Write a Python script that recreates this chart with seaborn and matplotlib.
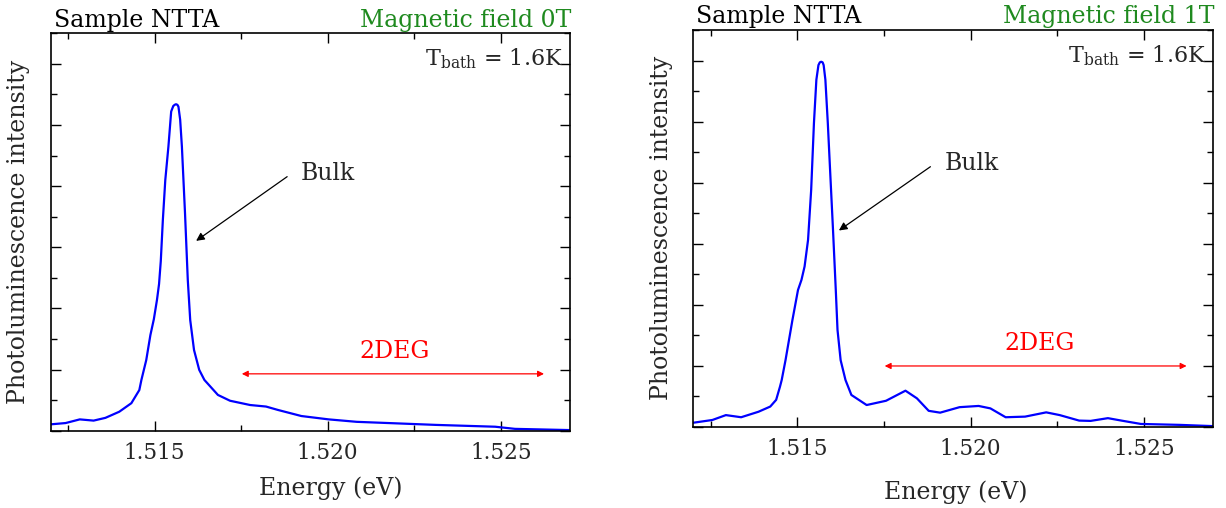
import numpy as np
import pandas as pd
import seaborn as sns
import matplotlib
matplotlib.use("Agg")
import matplotlib.pyplot as plt
from matplotlib.ticker import MultipleLocator, NullFormatter, FormatStrFormatter

# Photoluminescence spectra, sample NTTA, T_bath = 1.6 K
energy_0T = [1.51202, 1.51243, 1.51284, 1.51324, 1.51358, 1.51398, 1.51433, 1.51456,
             1.51462, 1.51476, 1.51488, 1.51498, 1.51507, 1.51513, 1.51518, 1.51524,
             1.51531, 1.51540, 1.51548, 1.51554, 1.51558, 1.51562, 1.51566, 1.51569,
             1.51574, 1.51579, 1.51588, 1.51596, 1.51603, 1.51614, 1.51629, 1.51644,
             1.51683, 1.51718, 1.51776, 1.51822, 1.51856, 1.51924, 1.52003, 1.52084,
             1.52199, 1.52312, 1.52484, 1.52541, 1.52700]
intensity_0T = [0.21, 0.25, 0.37, 0.33, 0.42, 0.62, 0.90, 1.33,
                1.66, 2.31, 3.13, 3.65, 4.28, 4.80, 5.55, 6.90,
                8.20, 9.29, 10.44, 10.62, 10.66, 10.68, 10.66, 10.60,
                10.17, 9.29, 7.11, 4.93, 3.62, 2.64, 1.99, 1.66,
                1.17, 0.98, 0.84, 0.79, 0.68, 0.48, 0.37, 0.29,
                0.24, 0.19, 0.13, 0.06, 0.02]

energy_1T = [1.51200, 1.51255, 1.51294, 1.51338, 1.51388, 1.51422, 1.51439, 1.51450,
             1.51455, 1.51466, 1.51486, 1.51502, 1.51512, 1.51521, 1.51531, 1.51540,
             1.51548, 1.51555, 1.51561, 1.51565, 1.51569, 1.51573, 1.51576, 1.51581,
             1.51588, 1.51595, 1.51603, 1.51611, 1.51616, 1.51625, 1.51639, 1.51656,
             1.51700, 1.51756, 1.51812, 1.51845, 1.51879, 1.51912, 1.51968, 1.52023,
             1.52057, 1.52101, 1.52157, 1.52218, 1.52257, 1.52313, 1.52346, 1.52396,
             1.52435, 1.52491, 1.52603, 1.52697]
intensity_1T = [0.13, 0.22, 0.38, 0.31, 0.49, 0.66, 0.88, 1.31,
                1.53, 2.18, 3.50, 4.48, 4.81, 5.25, 6.12, 7.76,
                9.95, 11.37, 11.85, 11.94, 11.96, 11.94, 11.85, 11.37,
                9.95, 8.31, 6.45, 4.48, 3.17, 2.18, 1.53, 1.04,
                0.71, 0.85, 1.18, 0.93, 0.52, 0.46, 0.64, 0.68,
                0.60, 0.31, 0.33, 0.47, 0.38, 0.20, 0.19, 0.28,
                0.20, 0.09, 0.06, 0.02]

panels = [
    dict(energy=energy_0T, intensity=intensity_0T, field="Magnetic field 0T",
         rect=[0.04135, 0.15217, 0.42357, 0.78228], xlabel_pos=(0.54, -0.115),
         bulk_tip=(1.5162, 6.21), bulk_tail=(1.51883, 8.31), bulk_text=(1.51923, 8.43),
         deg=(1.51752, 1.52625, 1.86), deg_text=(1.52193, 2.58)),
    dict(energy=energy_1T, intensity=intensity_1T, field="Magnetic field 1T",
         rect=[0.56550, 0.16004, 0.42414, 0.78091], xlabel_pos=(0.505, -0.135),
         bulk_tip=(1.5162, 6.43), bulk_tail=(1.51884, 8.52), bulk_text=(1.51925, 8.64),
         deg=(1.51752, 1.52623, 1.99), deg_text=(1.52200, 2.74)),
]

sns.set_theme(style="ticks")
plt.rcParams["font.family"] = ["DejaVu Serif"]
plt.rcParams["mathtext.fontset"] = "dejavuserif"

fig = plt.figure(figsize=(12.26, 5.08), dpi=100)
green = "#1f8a1f"
text_size = 17

for p in panels:
    ax = fig.add_axes(p["rect"])
    df = pd.DataFrame({"Energy": p["energy"], "PL": p["intensity"]})
    sns.lineplot(data=df, x="Energy", y="PL", ax=ax, sort=False, estimator=None,
                 color="#0000ff", linewidth=1.6)
    ax.set_xlim(1.512, 1.527)
    ax.set_ylim(0, 13)
    ax.xaxis.set_major_locator(MultipleLocator(0.005))
    ax.xaxis.set_minor_locator(MultipleLocator(0.0025))
    ax.yaxis.set_major_locator(MultipleLocator(2))
    ax.yaxis.set_minor_locator(MultipleLocator(1))
    ax.xaxis.set_major_formatter(FormatStrFormatter("%.3f"))
    ax.yaxis.set_major_formatter(NullFormatter())
    ax.tick_params(which="both", direction="in", top=True, right=True,
                   color="black", width=1.0, labelsize=15.5, pad=8)
    ax.tick_params(which="major", length=7)
    ax.tick_params(which="minor", length=4)
    for s in ax.spines.values():
        s.set_color("black")
        s.set_linewidth(1.2)
    ax.set_xlabel("Energy (eV)", fontsize=text_size)
    ax.xaxis.set_label_coords(*p["xlabel_pos"])
    ax.set_ylabel("Photoluminescence intensity", fontsize=text_size)
    ax.yaxis.set_label_coords(-0.04, 0.5)

    ax.text(0.006, 1.017, "Sample NTTA", transform=ax.transAxes, fontsize=text_size,
            ha="left", va="baseline", color="black")
    ax.text(1.002, 1.017, p["field"], transform=ax.transAxes, fontsize=text_size,
            ha="right", va="baseline", color=green)
    ax.text(0.987, 0.935, r"T$_{\mathrm{bath}}$ = 1.6K", transform=ax.transAxes,
            fontsize=16, ha="right", va="center")

    ax.annotate("", xy=p["bulk_tip"], xytext=p["bulk_tail"],
                arrowprops=dict(arrowstyle="-|>", color="black", lw=0.9,
                                mutation_scale=12, shrinkA=0, shrinkB=0))
    ax.text(*p["bulk_text"], "Bulk", fontsize=text_size, ha="left", va="center")

    x0, x1, yd = p["deg"]
    ax.annotate("", xy=(x0, yd), xytext=(x1, yd),
                arrowprops=dict(arrowstyle="<|-|>", color="red", lw=0.9,
                                mutation_scale=9, shrinkA=0, shrinkB=0))
    ax.text(*p["deg_text"], "2DEG", fontsize=text_size, ha="center", va="center",
            color="red")

fig.savefig("out.png", dpi=100)
